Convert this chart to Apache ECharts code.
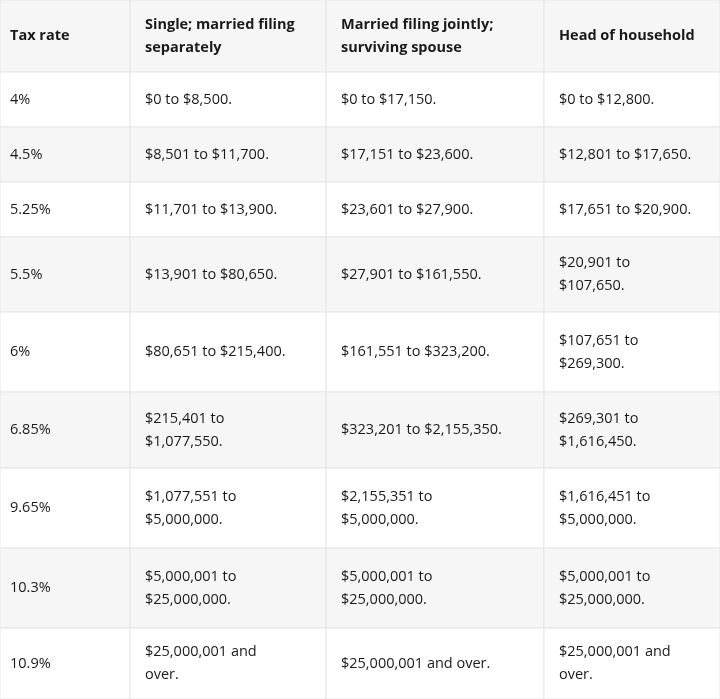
<!DOCTYPE html>
<html>
<head>
<meta charset="utf-8">
<script src="https://cdn.jsdelivr.net/npm/echarts@6/dist/echarts.min.js"></script>
<style>html,body{margin:0;padding:0;background:#fff}#main{width:720px;height:699px}</style>
</head>
<body>
<div id="main"></div>
<script>
var headers = ['Tax rate', 'Single; married filing\nseparately', 'Married filing jointly;\nsurviving spouse', 'Head of household'];
var rates = ['4%', '4.5%', '5.25%', '5.5%', '6%', '6.85%', '9.65%', '10.3%', '10.9%'];
var single = ['$0 to $8,500.', '$8,501 to $11,700.', '$11,701 to $13,900.', '$13,901 to $80,650.',
    '$80,651 to $215,400.', '$215,401 to\n$1,077,550.', '$1,077,551 to\n$5,000,000.',
    '$5,000,001 to\n$25,000,000.', '$25,000,001 and\nover.'];
var joint = ['$0 to $17,150.', '$17,151 to $23,600.', '$23,601 to $27,900.', '$27,901 to $161,550.',
    '$161,551 to $323,200.', '$323,201 to $2,155,350.', '$2,155,351 to\n$5,000,000.',
    '$5,000,001 to\n$25,000,000.', '$25,000,001 and over.'];
var household = ['$0 to $12,800.', '$12,801 to $17,650.', '$17,651 to $20,900.', '$20,901 to\n$107,650.',
    '$107,651 to\n$269,300.', '$269,301 to\n$1,616,450.', '$1,616,451 to\n$5,000,000.',
    '$5,000,001 to\n$25,000,000.', '$25,000,001 and\nover.'];
var colEdges = [0, 130, 326, 544, 720];
var rowEdges = [0, 72, 127, 182, 237, 312, 392, 468, 548, 628, 699];

var columns = [rates, single, joint, household];
var elements = [];
var font = '"Open Sans", sans-serif';

function cell(r, c, text, bold) {
    var x0 = colEdges[c], x1 = colEdges[c + 1], y0 = rowEdges[r], y1 = rowEdges[r + 1];
    elements.push({
        type: 'rect',
        shape: {x: x0, y: y0, width: x1 - x0, height: y1 - y0},
        style: {fill: (r % 2 === 0) ? '#f6f6f6' : '#ffffff', stroke: '#e6e6e6', lineWidth: 1}
    });
    elements.push({
        type: 'text',
        x: x0 + (c === 0 ? 10 : 15), y: (y0 + y1) / 2,
        style: {
            text: text, fill: '#1a1a1a', fontFamily: font,
            fontSize: 14.5, fontWeight: bold ? 'bold' : 'normal',
            lineHeight: 23, verticalAlign: 'middle', align: 'left'
        }
    });
}

for (var c = 0; c < 4; c++) {
    cell(0, c, headers[c], true);
    for (var r = 0; r < rates.length; r++) {
        cell(r + 1, c, columns[c][r], false);
    }
}

var myChart = echarts.init(document.getElementById('main'));
myChart.setOption({graphic: {elements: elements}});
</script>
</body>
</html>
